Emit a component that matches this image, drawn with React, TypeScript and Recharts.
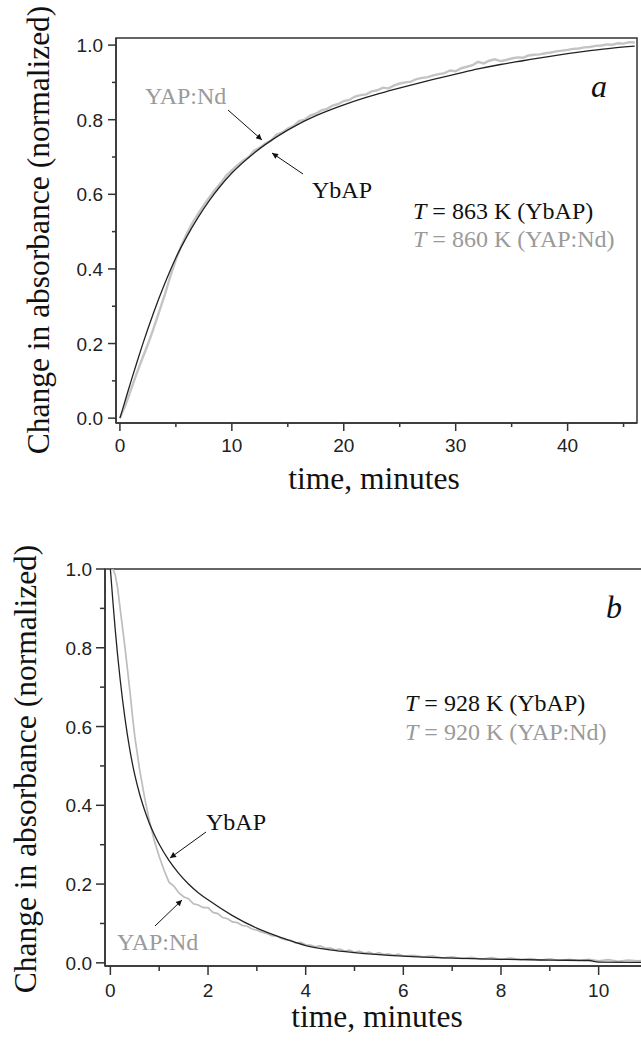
import React from 'react';
import { LineChart, Line, XAxis, YAxis, ReferenceArea } from 'recharts';

// panel a: slow rise (minutes)
const ybapATime = [0, 0.5, 1, 1.5, 2, 3, 4, 5, 6, 7, 8, 9, 10, 12, 14, 16, 18, 20, 22, 24, 26, 28, 30, 32, 34, 36, 38, 40, 42, 44, 46];
const ybapAVal = [0, 0.05, 0.1, 0.148, 0.195, 0.282, 0.36, 0.43, 0.488, 0.539, 0.584, 0.623, 0.657, 0.711, 0.754, 0.789, 0.817, 0.84, 0.86, 0.877, 0.893, 0.908, 0.922, 0.936, 0.948, 0.958, 0.968, 0.977, 0.985, 0.992, 0.997];

const yapATime = [
  0, 0.5, 1, 1.5, 2, 2.5, 3, 3.5, 4, 4.5, 5, 5.5, 6, 6.5, 7, 7.5, 8, 8.5, 9, 9.5,
  10, 10.5, 11, 11.5, 12, 12.5, 13, 13.5, 14, 14.5, 15, 15.5, 16, 16.5, 17, 17.5, 18, 18.5, 19, 19.5,
  20, 20.5, 21, 21.5, 22, 22.5, 23, 23.5, 24, 24.5, 25, 25.5, 26, 26.5, 27, 27.5, 28, 28.5, 29, 29.5,
  30, 30.5, 31, 31.5, 32, 32.5, 33, 33.5, 34, 34.5, 35, 35.5, 36, 36.5, 37, 37.5, 38, 38.5, 39, 39.5,
  40, 40.5, 41, 41.5, 42, 42.5, 43, 43.5, 44, 44.5, 45, 45.5, 46,
];
const yapAVal = [
  0, 0.035, 0.078, 0.12, 0.16, 0.198, 0.24, 0.285, 0.33, 0.38, 0.425, 0.463, 0.496, 0.524, 0.548, 0.571, 0.592, 0.612, 0.63, 0.65,
  0.664, 0.678, 0.69, 0.7, 0.717, 0.725, 0.736, 0.744, 0.76, 0.766, 0.776, 0.783, 0.796, 0.8, 0.811, 0.816, 0.825, 0.829, 0.838, 0.842,
  0.85, 0.853, 0.862, 0.866, 0.868, 0.876, 0.879, 0.886, 0.884, 0.892, 0.897, 0.9, 0.902, 0.909, 0.912, 0.914, 0.919, 0.922, 0.925, 0.932,
  0.93, 0.938, 0.942, 0.946, 0.955, 0.951, 0.958, 0.962, 0.957, 0.96, 0.964, 0.967, 0.966, 0.972, 0.974, 0.975, 0.978, 0.98, 0.983, 0.985,
  0.987, 0.99, 0.991, 0.994, 0.995, 0.998, 0.999, 1.002, 1.001, 1.005, 1.004, 1.008, 1.007,
];

// panel b: fast decay (minutes)
const ybapBTime = [0, 0.05, 0.1, 0.2, 0.3, 0.4, 0.5, 0.6, 0.7, 0.8, 0.9, 1.0, 1.2, 1.4, 1.6, 1.8, 2.0, 2.5, 3.0, 3.5, 4.0, 4.5, 5.0, 6.0, 7.0, 8.0, 9.0, 9.8, 10.0, 11.0, 11.4];
const ybapBVal = [1.0, 0.92, 0.845, 0.72, 0.62, 0.54, 0.477, 0.428, 0.388, 0.354, 0.326, 0.301, 0.26, 0.227, 0.2, 0.178, 0.16, 0.12, 0.088, 0.064, 0.044, 0.033, 0.026, 0.017, 0.012, 0.009, 0.007, 0.006, 0.002, 0.001, 0.001];

const yapBTime = [
  0, 0.05, 0.1, 0.15, 0.2, 0.25, 0.3, 0.35, 0.4, 0.45, 0.5, 0.6, 0.7, 0.8, 0.9,
  1.0, 1.1, 1.2, 1.3, 1.4, 1.5, 1.6, 1.7, 1.8, 1.9, 2.0, 2.1, 2.2, 2.3, 2.4, 2.5, 2.6, 2.7, 2.8, 2.9,
  3.0, 3.1, 3.2, 3.3, 3.4, 3.5, 3.6, 3.7, 3.8, 3.9, 4.0, 4.1, 4.2, 4.3, 4.4, 4.5, 4.6, 4.7, 4.8, 4.9,
  5.0, 5.1, 5.2, 5.3, 5.4, 5.5, 5.6, 5.7, 5.8, 5.9, 6.0, 6.2, 6.4, 6.6, 6.8, 7.0, 7.2, 7.4, 7.6, 7.8,
  8.0, 8.2, 8.4, 8.6, 8.8, 9.0, 9.2, 9.4, 9.6, 9.8, 10.0, 10.2, 10.4, 10.6, 10.8, 11.0,
];
const yapBVal = [
  1.0, 1.0, 0.985, 0.95, 0.9, 0.85, 0.8, 0.745, 0.69, 0.63, 0.575, 0.49, 0.42, 0.36, 0.31,
  0.27, 0.235, 0.205, 0.195, 0.178, 0.168, 0.163, 0.15, 0.147, 0.14, 0.14, 0.128, 0.125, 0.115, 0.112, 0.104, 0.102, 0.095, 0.093, 0.086,
  0.083, 0.078, 0.075, 0.069, 0.068, 0.062, 0.058, 0.057, 0.05, 0.052, 0.046, 0.045, 0.041, 0.043, 0.037, 0.038, 0.033, 0.035, 0.03, 0.032,
  0.027, 0.03, 0.025, 0.027, 0.022, 0.026, 0.021, 0.023, 0.019, 0.022, 0.017, 0.019, 0.015, 0.018, 0.012, 0.015, 0.011, 0.014, 0.009, 0.013,
  0.009, 0.012, 0.008, 0.011, 0.007, 0.01, 0.006, 0.009, 0.006, 0.009, 0.005, 0.008, 0.004, 0.007, 0.005, 0.007,
];

const aXMajor = [0, 10, 20, 30, 40];
const aXMinor = [5, 15, 25, 35, 45];
const bXMajor = [0, 2, 4, 6, 8, 10];
const bXMinor = [1, 3, 5, 7, 9, 11];
const yMajor = [0, 0.2, 0.4, 0.6, 0.8, 1.0];
const yMinor = [0.1, 0.3, 0.5, 0.7, 0.9];

const pts = (t: number[], v: number[]) => t.map((x, i) => ({ t: x, v: v[i] }));

const SANS = "'Liberation Sans', Arial, sans-serif";
const SERIF = "'Liberation Serif', 'Times New Roman', serif";
const AX = '#333';
const GRAY_TXT = '#9a9a9a';

function XTick(props: any) {
  const { x, y, payload, majors, big, small, dy } = props;
  const major = majors.includes(payload.value);
  return (
    <g>
      <line x1={x} y1={y} x2={x} y2={y + (major ? big : small)} stroke={AX} strokeWidth={1.5} />
      {major && (
        <text x={x} y={y + dy} textAnchor="middle" fontFamily={SANS} fontSize={19} fill="#222">
          {payload.value}
        </text>
      )}
    </g>
  );
}

function YTick(props: any) {
  const { x, y, payload, big, small } = props;
  const major = yMajor.some((m) => Math.abs(m - payload.value) < 1e-6);
  return (
    <g>
      <line x1={x - (major ? big : small)} y1={y} x2={x} y2={y} stroke={AX} strokeWidth={1.5} />
      {major && (
        <text x={x - 13} y={y + 7} textAnchor="end" fontFamily={SANS} fontSize={19} fill="#222">
          {payload.value.toFixed(1)}
        </text>
      )}
    </g>
  );
}

function PanelA() {
  const xd: [number, number] = [-0.35, 46.2];
  const yd: [number, number] = [-0.013, 1.019];
  return (
    <LineChart width={641} height={500} margin={{ top: 38, right: 4, bottom: 47, left: 56 }}>
      <XAxis
        type="number"
        dataKey="t"
        domain={xd}
        allowDataOverflow
        ticks={[...aXMajor, ...aXMinor]}
        interval={0}
        height={30}
        tickSize={0}
        tickMargin={0}
        axisLine={{ stroke: AX, strokeWidth: 1.5 }}
        tickLine={false}
        tick={(p: any) => <XTick {...p} majors={aXMajor} big={8} small={4} dy={29} />}
      />
      <YAxis
        type="number"
        domain={yd}
        allowDataOverflow
        ticks={[...yMajor, ...yMinor]}
        interval={0}
        width={60}
        tickSize={0}
        tickMargin={0}
        axisLine={{ stroke: AX, strokeWidth: 1.5 }}
        tickLine={false}
        tick={(p: any) => <YTick {...p} big={8} small={4} />}
      />
      <ReferenceArea x1={xd[0]} x2={xd[1]} y1={yd[0]} y2={yd[1]} fill="none" stroke={AX} strokeWidth={1.5} ifOverflow="visible" />
      <Line data={pts(yapATime, yapAVal)} dataKey="v" type="linear" stroke="#c4c4c4" strokeWidth={2.4} dot={false} isAnimationActive={false} />
      <Line data={pts(ybapATime, ybapAVal)} dataKey="v" type="monotone" stroke="#222" strokeWidth={1.3} dot={false} isAnimationActive={false} />
    </LineChart>
  );
}

function PanelB() {
  const xd: [number, number] = [-0.11, 11.4];
  const yd: [number, number] = [-0.008, 1.0];
  return (
    <LineChart width={677} height={521} margin={{ top: 49, right: 10, bottom: 45, left: 45 }}>
      <XAxis
        type="number"
        dataKey="t"
        domain={xd}
        allowDataOverflow
        ticks={[...bXMajor, ...bXMinor]}
        interval={0}
        height={30}
        tickSize={0}
        tickMargin={0}
        axisLine={{ stroke: AX, strokeWidth: 1.5 }}
        tickLine={false}
        tick={(p: any) => <XTick {...p} majors={bXMajor} big={9} small={5} dy={31} />}
      />
      <YAxis
        type="number"
        domain={yd}
        allowDataOverflow
        ticks={[...yMajor, ...yMinor]}
        interval={0}
        width={60}
        tickSize={0}
        tickMargin={0}
        axisLine={{ stroke: AX, strokeWidth: 1.5 }}
        tickLine={false}
        tick={(p: any) => <YTick {...p} big={9} small={5} />}
      />
      <ReferenceArea x1={xd[0]} x2={xd[1]} y1={yd[0]} y2={yd[1]} fill="none" stroke={AX} strokeWidth={1.5} ifOverflow="visible" />
      <Line data={pts(yapBTime, yapBVal)} dataKey="v" type="linear" stroke="#bdbdbd" strokeWidth={1.7} dot={false} isAnimationActive={false} />
      <Line data={pts(ybapBTime, ybapBVal)} dataKey="v" type="monotone" stroke="#222" strokeWidth={1.3} dot={false} isAnimationActive={false} />
    </LineChart>
  );
}

function Arrow({ x1, y1, x2, y2 }: { x1: number; y1: number; x2: number; y2: number }) {
  return <line x1={x1} y1={y1} x2={x2} y2={y2} stroke="#111" strokeWidth={1} markerEnd="url(#head)" />;
}

function Overlay() {
  const t = { fontFamily: SERIF, fontSize: 24 };
  return (
    <svg width={641} height={1041} style={{ position: 'absolute', left: 0, top: 0, pointerEvents: 'none' }}>
      <defs>
        <marker id="head" viewBox="0 0 10 10" refX="10" refY="5" markerWidth="8" markerHeight="6" orient="auto" markerUnits="userSpaceOnUse">
          <path d="M0,0 L10,5 L0,10 z" fill="#111" />
        </marker>
      </defs>
      {/* panel a */}
      <text transform="translate(49,230) rotate(-90)" textAnchor="middle" fontFamily={SERIF} fontSize={31.5} fill="#111">
        Change in absorbance (normalized)
      </text>
      <text x={374} y={489} textAnchor="middle" fontFamily={SERIF} fontSize={31.5} fill="#111">time, minutes</text>
      <text x={599} y={97} textAnchor="middle" fontFamily={SERIF} fontStyle="italic" fontSize={32} fill="#111">a</text>
      <text x={145} y={104} {...t} fill={GRAY_TXT}>YAP:Nd</text>
      <text x={312} y={198} {...t} fill="#111">YbAP</text>
      <text x={413} y={219} {...t} fill="#111"><tspan fontStyle="italic">T</tspan> = 863 K (YbAP)</text>
      <text x={413} y={247} {...t} fill={GRAY_TXT}><tspan fontStyle="italic">T</tspan> = 860 K (YAP:Nd)</text>
      <Arrow x1={228} y1={110} x2={262} y2={140} />
      <Arrow x1={303} y1={174} x2={272} y2={153} />
      {/* panel b */}
      <text transform="translate(36,769) rotate(-90)" textAnchor="middle" fontFamily={SERIF} fontSize={31.5} fill="#111">
        Change in absorbance (normalized)
      </text>
      <text x={377} y={1027} textAnchor="middle" fontFamily={SERIF} fontSize={31.5} fill="#111">time, minutes</text>
      <text x={614} y={618} textAnchor="middle" fontFamily={SERIF} fontStyle="italic" fontSize={32} fill="#111">b</text>
      <text x={405} y={711} {...t} fill="#111"><tspan fontStyle="italic">T</tspan> = 928 K (YbAP)</text>
      <text x={405} y={740} {...t} fill={GRAY_TXT}><tspan fontStyle="italic">T</tspan> = 920 K (YAP:Nd)</text>
      <text x={206} y={830} {...t} fill="#111">YbAP</text>
      <text x={117} y={950} {...t} fill={GRAY_TXT}>YAP:Nd</text>
      <Arrow x1={206} y1={832} x2={170} y2={858} />
      <Arrow x1={155} y1={926} x2={182} y2={900} />
    </svg>
  );
}

export default function App() {
  return (
    <div style={{ position: 'fixed', left: 0, top: 0, width: 641, height: 1041, overflow: 'hidden', background: '#fff' }}>
      <div style={{ position: 'absolute', left: 0, top: 0 }}>
        <PanelA />
      </div>
      <div style={{ position: 'absolute', left: 0, top: 520 }}>
        <PanelB />
      </div>
      <Overlay />
    </div>
  );
}
